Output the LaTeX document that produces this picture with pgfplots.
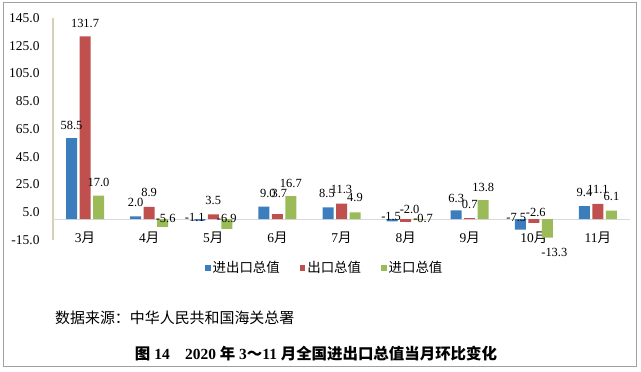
\documentclass[border=0pt]{standalone}
\usepackage{fontspec}
\setmainfont{Liberation Serif}
\newfontfamily\cjk{Noto Sans CJK SC}
\usepackage{pgfplots}
\pgfplotsset{compat=1.18}
\usepackage{pgfplotstable}
\definecolor{cblue}{RGB}{60,125,190}
\definecolor{cred}{RGB}{192,80,77}
\definecolor{cgreen}{RGB}{155,187,89}
\definecolor{cbeige}{RGB}{214,208,184}
\definecolor{czero}{RGB}{210,218,226}
\definecolor{cframe}{RGB}{160,160,160}

\pgfplotstableread{
x y dx dy
0 58.5 0 13
1 2.0 0 14
2 -1.1 -5 3.5
3 9.0 4 13.5
4 8.5 -1 14
5 -1.5 -1 5
6 6.3 0 12
7 -7.5 -4 12.4
8 9.4 0 14
}\tblA
\pgfplotstableread{
x y dx dy
0 131.7 0 13
1 8.9 0 14.6
2 3.5 0 14
3 3.7 2 21
4 11.3 0 14
5 -2.0 4 12.8
6 0.7 0 14
7 -2.6 2 10.6
8 11.1 0 14
}\tblB
\pgfplotstableread{
x y dx dy
0 17.0 0 13
1 -5.6 3 8.8
2 -6.9 0 10.6
3 16.7 0 13
4 4.9 0 15
5 -0.7 4 2
6 13.8 0 13
7 -13.3 7 -14.5
8 6.1 0 14
}\tblC

\newcommand\cb[1]{{\cjk\bfseries #1}}

\begin{document}
\begin{tikzpicture}
\useasboundingbox (0,0) rectangle (641bp,372bp);
\draw[cframe, line width=1bp] (3bp,5bp) rectangle (636bp,369bp);
\begin{axis}[
  at={(53bp,132bp)}, anchor=south west,
  scale only axis, width=577bp, height=222bp,
  xmin=-0.5, xmax=8.5, ymin=-15, ymax=145,
  ytick={-15,5,...,145},
  xtick={0,...,8},
  xticklabels={3{\cjk 月},4{\cjk 月},5{\cjk 月},6{\cjk 月},7{\cjk 月},8{\cjk 月},9{\cjk 月},10{\cjk 月},11{\cjk 月}},
  axis lines*=left,
  x axis line style={draw=none},
  y axis line style={draw=cbeige, line width=1.2bp},
  major tick length=0pt,
  extra y ticks={0}, extra y tick labels={},
  extra y tick style={grid=major, major grid style={draw=czero, line width=1bp}},
  yticklabel style={font=\fontsize{13.5}{14}\selectfont, anchor=east, xshift=-10bp,
    /pgf/number format/fixed, /pgf/number format/fixed zerofill, /pgf/number format/precision=1},
  /pgf/number format/assume math mode=true,
  xticklabel style={font=\fontsize{13.5}{14}\selectfont, anchor=center, yshift=2bp},
  clip=false,
  ybar=2.5bp, bar width=11bp,
  nodes near coords,
  nodes near coords style={font=\fontsize{12.5}{13}\selectfont, anchor=center, inner sep=0pt, xshift=\dx bp, yshift=\dy bp,
    /pgf/number format/fixed, /pgf/number format/fixed zerofill, /pgf/number format/precision=1},
  visualization depends on={\thisrow{dx} \as \dx},
  visualization depends on={\thisrow{dy} \as \dy},
  legend style={at={(0.471,-0.126)}, anchor=center, draw=none, fill=none,
    legend columns=3, font=\cjk\fontsize{13.5}{14}\selectfont,
    /tikz/every even column/.append style={column sep=18bp},
    inner sep=0pt},
  legend image code/.code={\fill[#1] (0bp,-2.7bp) rectangle (5.5bp,2.7bp);},
]
\addplot[fill=cblue, draw=none] table[x=x,y=y] {\tblA};
\addplot[fill=cred, draw=none] table[x=x,y=y] {\tblB};
\addplot[fill=cgreen, draw=none] table[x=x,y=y] {\tblC};
\legend{进出口总值,出口总值,进口总值}
\end{axis}
\node[anchor=west, font=\cjk\fontsize{15}{16}\selectfont, inner sep=0pt] at (55bp,54bp) {数据来源：中华人民共和国海关总署};
\node[anchor=center, font=\bfseries\fontsize{15.5}{16}\selectfont, inner sep=0pt] at (316bp,18bp) {\cb{图} 14\quad 2020 \cb{年} 3\cb{～}11 \cb{月全国进出口总值当月环比变化}};
\end{tikzpicture}
\end{document}
